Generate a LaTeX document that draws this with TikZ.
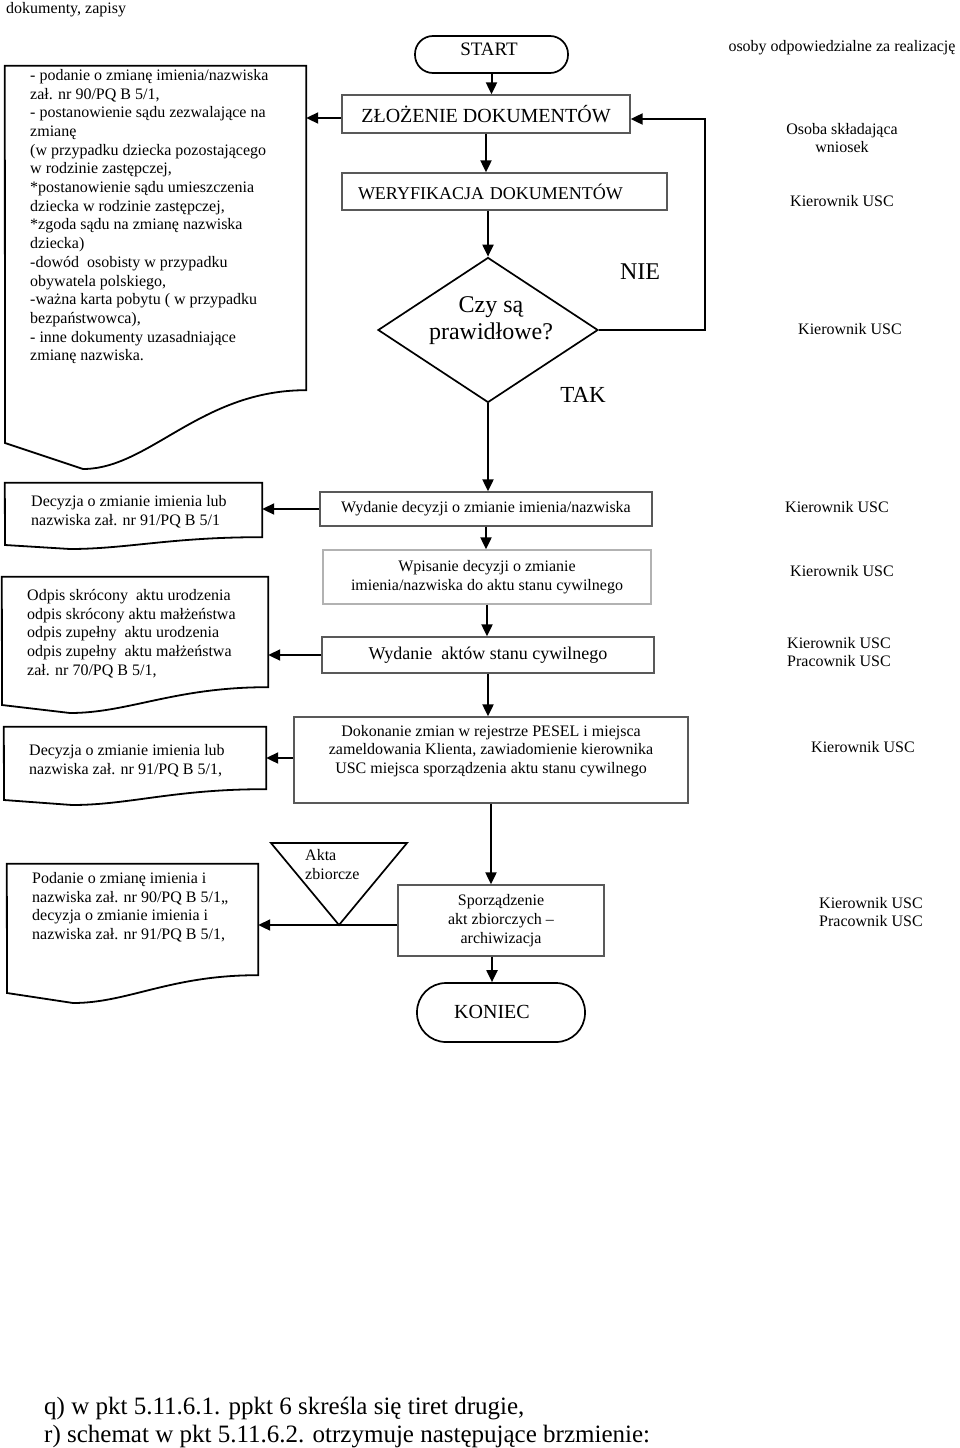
\documentclass[tikz,border=0pt]{standalone}
\usepackage{fontspec}
\setmainfont{Liberation Serif}
\usetikzlibrary{arrows.meta,shapes.geometric,calc,fit}
\newcommand\txtA{\fontsize{16}{18.7}\selectfont}
\newcommand\txtB{\fontsize{18}{21}\selectfont}
\newcommand\txtS{\fontsize{19}{22}\selectfont}
\newcommand\txtC{\fontsize{20}{23}\selectfont}
\newcommand\txtD{\fontsize{24}{27}\selectfont}
\newcommand\txtE{\fontsize{25}{28}\selectfont}
\newcommand\mydocshape[8]{%
  \coordinate (#1nw) at (#2,#3);
  \coordinate (#1se) at (#4,#5);
  \node[fit=(#1nw)(#1se), inner sep=0pt] (#1) {};
  \draw[docline] (#1.north west) -- (#1.north east) -- (#1.south east)
    .. controls ({#4-0.35*(#4-#2)},#5) and ({#7+0.22*(#4-#2)},#8) .. (#7,#8)
    -- (#2,#6) -- cycle;}
\begin{document}
\begin{tikzpicture}[x=1pt,y=-1pt,
  proc/.style={draw=black!65, line width=1.3pt, inner sep=0pt, align=center, font=\txtA},
  term/.style={draw=black, line width=1.7pt, inner sep=0pt},
  arr/.style={line width=2pt, -{Triangle[length=12pt,width=11pt]}},
  docline/.style={line width=1.8pt, line join=miter},
  lab/.style={inner sep=0pt, align=center, font=\txtA},
  doctext/.style={inner sep=0pt, align=left, font=\txtA, anchor=north west},
  big/.style={inner sep=0pt, font=\txtD}
]
\fill[white] (0,0) rectangle (960,1448);
\useasboundingbox (0,0) rectangle (960,1448);

% header texts
\node[lab, anchor=base west] (hdr) at (6,13) {dokumenty, zapisy};
\node[lab] (osoby) at (842,48) {osoby odpowiedzialne za realizację};

% main flow
\node[term, rounded corners=18pt, minimum width=153pt, minimum height=37pt] (start) at (491.5,54.5) {};
\node[inner sep=0pt, font=\txtS] (startt) at (489,49) {START};
\node[proc, font=\txtC, minimum width=288pt, minimum height=38pt] (zloz) at (486,114) {ZŁOŻENIE DOKUMENTÓW};
\node[proc, font=\txtB, minimum width=325pt, minimum height=37pt, text width=293pt, inner xsep=16pt, align=left] (wer) at (504.5,191.5) {WERYFIKACJA DOKUMENTÓW};
\node[draw=black, line width=1.7pt, diamond, minimum width=220pt, minimum height=145pt, inner sep=0pt] (dia) at (488,330) {};
\node[big, align=center] (diat) at (491,321) {Czy są\\prawidłowe?};
\node[big] (nie) at (640,272) {NIE};
\node[inner sep=0pt, font=\fontsize{23}{26}\selectfont] (tak) at (583,395) {TAK};

\node[proc, minimum width=332pt, minimum height=34pt] (wyd) at (486,509) {Wydanie decyzji o zmianie imienia/nazwiska};
\node[proc, draw=black!30, minimum width=328pt, minimum height=54pt] (wpis) at (487,577) {Wpisanie decyzji o zmianie\\imienia/nazwiska do aktu stanu cywilnego};
\node[proc, font=\txtB, minimum width=332pt, minimum height=36pt] (aktbox) at (488,655) {Wydanie\ \ aktów stanu cywilnego};
\node[proc, minimum width=394pt, minimum height=86pt] (pesel) at (491,760) {};
\node[lab] (peselt) at (491,751) {Dokonanie zmian w rejestrze PESEL i miejsca\\zameldowania Klienta, zawiadomienie kierownika\\USC miejsca sporządzenia aktu stanu cywilnego};
\node[proc, minimum width=206pt, minimum height=71pt] (spo) at (501,920.5) {Sporządzenie\\akt zbiorczych –\\archiwizacja};
\node[term, rounded corners=29pt, minimum width=168pt, minimum height=59pt] (kon) at (501,1012.5) {};
\node[inner sep=0pt, font=\txtC] (kont) at (492,1012) {KONIEC};

% triangle
\draw[line width=1.7pt, line join=miter] (271,843) -- (407,843) -- (339,925) -- cycle;
\node[doctext] (trit) at (305,849) {Akta\\zbiorcze};

% documents
\mydocshape{d1}{5}{66}{306}{390}{443}{83}{469}
\node[doctext] (d1t) at (30,69) {- podanie o zmianę imienia/nazwiska\\
zał. nr 90/PQ B 5/1,\\
- postanowienie sądu zezwalające na\\
zmianę\\
(w przypadku dziecka pozostającego\\
w rodzinie zastępczej,\\
*postanowienie sądu umieszczenia\\
dziecka w rodzinie zastępczej,\\
*zgoda sądu na zmianę nazwiska\\
dziecka)\\
-dowód\ \ osobisty w przypadku\\
obywatela polskiego,\\
-ważna karta pobytu ( w przypadku\\
bezpaństwowca),\\
- inne dokumenty uzasadniające\\
zmianę nazwiska.};

\mydocshape{d2}{5}{483}{262}{537}{545}{70}{549}
\node[doctext] (d2t) at (31,495) {Decyzja o zmianie imienia lub\\nazwiska zał. nr 91/PQ B 5/1};

\mydocshape{d3}{2}{577}{268}{687}{705}{70}{713}
\node[doctext] (d3t) at (27,589) {Odpis skrócony\ \ aktu urodzenia\\odpis skrócony aktu małżeństwa\\odpis zupełny\ \ aktu urodzenia\\odpis zupełny\ \ aktu małżeństwa\\zał. nr 70/PQ B 5/1,};

\mydocshape{d4}{4}{727}{266}{789}{800}{72}{805}
\node[doctext] (d4t) at (29,744) {Decyzja o zmianie imienia lub\\nazwiska zał. nr 91/PQ B 5/1,};

\mydocshape{d5}{7}{864}{258}{975}{993}{73}{1003}
\node[doctext] (d5t) at (32,872) {Podanie o zmianę imienia i\\nazwiska zał. nr 90/PQ B 5/1,,\\decyzja o zmianie imienia i\\nazwiska zał. nr 91/PQ B 5/1,};

% responsible persons
\node[lab] (r1) at (842,138) {Osoba składająca\\wniosek};
\node[lab] (r2) at (842,201) {Kierownik USC};
\node[lab] (r3) at (850,329) {Kierownik USC};
\node[lab] (r4) at (837,507) {Kierownik USC};
\node[lab] (r5) at (842,571) {Kierownik USC};
\node[lab] (r6) at (839,652) {Kierownik USC\\Pracownik USC};
\node[lab] (r7) at (863,747) {Kierownik USC};
\node[lab] (r8) at (871,912) {Kierownik USC\\Pracownik USC};

% connectors
\draw[arr] (start.south) -- (start.south |- zloz.north);
\draw[arr] (zloz.south) -- (zloz.south |- wer.north);
\draw[arr] (wer.south -| dia.north) -- (dia.north);
\coordinate (zw) at ($(zloz.west)+(0,4)$);
\draw[arr] (zw) -- (zw -| d1.east);
\coordinate (nieX) at (705,119);
\draw[arr] (dia.east) -| (nieX) -- (nieX -| zloz.east);
\draw[arr] (dia.south) -- (dia.south |- wyd.north);
\draw[arr] (wyd.west) -- (wyd.west -| d2.east);
\draw[arr] (wyd.south) -- (wyd.south |- wpis.north);
\draw[arr] (wpis.south) -- (wpis.south |- aktbox.north);
\draw[arr] (aktbox.west) -- (aktbox.west -| d3.east);
\draw[arr] (aktbox.south) -- (aktbox.south |- pesel.north);
\coordinate (peselW) at ($(pesel.west)+(0,-2)$);
\draw[arr] (peselW) -- (peselW -| d4.east);
\draw[arr] (pesel.south) -- (pesel.south |- spo.north);
\coordinate (spw) at ($(spo.west)+(0,4.5)$);
\draw[arr] (spw) -- (spw -| d5.east);
\draw[arr] (spo.south -| kont) -- (kon.north -| kont);

% footer
\node[inner sep=0pt, font=\txtE, align=left, anchor=west] (foot) at (44,1422) {q) w pkt 5.11.6.1. ppkt 6 skreśla się tiret drugie,\\r) schemat w pkt 5.11.6.2. otrzymuje następujące brzmienie:};
\end{tikzpicture}
\end{document}
